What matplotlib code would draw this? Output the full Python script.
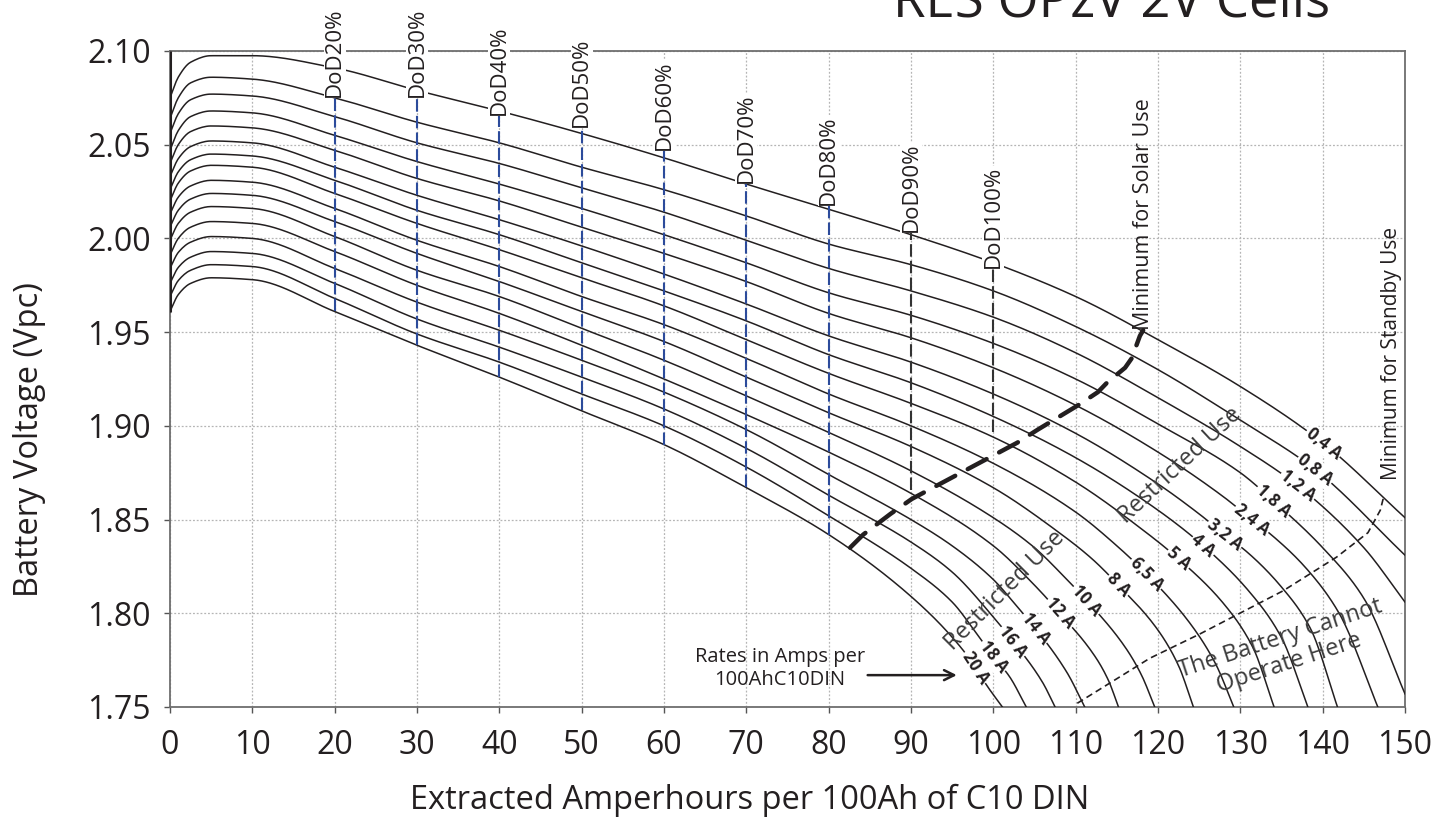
import numpy as np
import matplotlib
matplotlib.use("Agg")
import matplotlib.pyplot as plt

plt.rcParams['font.family'] = ['Open Sans', 'DejaVu Sans']

# --- discharge curves, one per rate (A per 100Ah C10 DIN) ---
rate_labels = ['0,4 A', '0,8 A', '1,2 A', '1,8 A', '2,4 A', '3,2 A', '4 A', '5 A',
               '6,5 A', '8 A', '10 A', '12 A', '14 A', '16 A', '18 A', '20 A']

head_ah = [0, 1, 2.5, 5, 10, 20, 30, 40, 50, 60, 70, 80]
head_v = [
    [2.075, 2.086, 2.094, 2.0975, 2.0975, 2.091, 2.079, 2.068, 2.056, 2.043, 2.029, 2.0156],
    [2.064, 2.075, 2.083, 2.086, 2.085, 2.075, 2.062, 2.051, 2.038, 2.026, 2.012, 1.997],
    [2.056, 2.0665, 2.074, 2.077, 2.076, 2.065, 2.051, 2.040, 2.027, 2.014, 1.999, 1.984],
    [2.047, 2.0575, 2.065, 2.068, 2.067, 2.055, 2.041, 2.029, 2.016, 2.002, 1.987, 1.971],
    [2.040, 2.050, 2.057, 2.060, 2.059, 2.047, 2.032, 2.020, 2.006, 1.992, 1.977, 1.960],
    [2.033, 2.0425, 2.049, 2.052, 2.051, 2.038, 2.023, 2.010, 1.996, 1.981, 1.965, 1.948],
    [2.026, 2.0355, 2.042, 2.045, 2.044, 2.031, 2.015, 2.002, 1.987, 1.972, 1.956, 1.938],
    [2.020, 2.0295, 2.036, 2.039, 2.038, 2.024, 2.008, 1.994, 1.979, 1.964, 1.946, 1.928],
    [2.013, 2.022, 2.028, 2.031, 2.030, 2.016, 1.999, 1.985, 1.969, 1.954, 1.936, 1.917],
    [2.006, 2.015, 2.021, 2.024, 2.023, 2.009, 1.992, 1.977, 1.961, 1.945, 1.926, 1.907],
    [1.999, 2.008, 2.014, 2.017, 2.016, 2.001, 1.983, 1.969, 1.952, 1.935, 1.916, 1.8965],
    [1.991, 2.000, 2.006, 2.009, 2.008, 1.993, 1.975, 1.960, 1.943, 1.925, 1.906, 1.886],
    [1.984, 1.9925, 1.998, 2.001, 2.000, 1.984, 1.966, 1.951, 1.935, 1.918, 1.898, 1.874],
    [1.976, 1.9845, 1.990, 1.993, 1.992, 1.976, 1.957, 1.942, 1.926, 1.909, 1.888, 1.863],
    [1.969, 1.9775, 1.983, 1.986, 1.985, 1.968, 1.949, 1.934, 1.917, 1.900, 1.878, 1.852],
    [1.961, 1.970, 1.976, 1.979, 1.978, 1.961, 1.943, 1.926, 1.908, 1.890, 1.867, 1.842],
]

tail_ah = [
    [90, 100, 110, 120, 130, 140, 150],
    [90, 100, 110, 120, 130, 139, 150],
    [90, 100, 110, 120, 130, 137, 145, 150],
    [90, 100, 110, 120, 130, 134, 140, 145, 150],
    [90, 100, 110, 120, 128, 131.4, 134, 138, 142, 146.7],
    [90, 100, 110, 120, 125, 128.1, 131, 135, 138.5, 141.8],
    [90, 100, 110, 120, 125.5, 131, 135, 138.2],
    [90, 100, 110, 118, 122.5, 128, 131.5, 134.1],
    [90, 100, 110, 115, 118.6, 124, 127, 129.2],
    [90, 100, 108, 112, 115.2, 120, 122.5, 124.3],
    [90, 100, 105, 108.5, 111.3, 116, 118, 119.6],
    [90, 100, 105, 108.1, 112.5, 114, 115.2],
    [90, 95, 100, 103, 105.1, 109, 111.1],
    [90, 95, 100, 102.4, 106, 107.5],
    [90, 95, 98, 100, 102, 104],
    [90, 96.2, 99.6, 101.1],
]
tail_v = [
    [2.002, 1.987, 1.969, 1.946, 1.921, 1.891, 1.851],
    [1.986, 1.972, 1.953, 1.930, 1.903, 1.877, 1.831],
    [1.972, 1.958, 1.939, 1.915, 1.889, 1.868, 1.835, 1.806],
    [1.959, 1.944, 1.925, 1.901, 1.875, 1.860, 1.835, 1.808, 1.757],
    [1.947, 1.931, 1.911, 1.886, 1.862, 1.850, 1.841, 1.824, 1.800, 1.75],
    [1.934, 1.917, 1.896, 1.869, 1.853, 1.842, 1.832, 1.814, 1.792, 1.75],
    [1.923, 1.905, 1.883, 1.855, 1.836, 1.812, 1.787, 1.75],
    [1.912, 1.894, 1.870, 1.845, 1.829, 1.805, 1.782, 1.75],
    [1.900, 1.880, 1.854, 1.836, 1.821, 1.794, 1.773, 1.75],
    [1.889, 1.867, 1.843, 1.829, 1.815, 1.791, 1.772, 1.75],
    [1.876, 1.851, 1.835, 1.820, 1.807, 1.782, 1.767, 1.75],
    [1.864, 1.836, 1.815, 1.800, 1.776, 1.764, 1.75],
    [1.850, 1.836, 1.818, 1.803, 1.792, 1.768, 1.75],
    [1.838, 1.822, 1.798, 1.785, 1.763, 1.75],
    [1.824, 1.806, 1.789, 1.777, 1.766, 1.75],
    [1.809, 1.781, 1.759, 1.75],
]

label_ah = [140.1, 139.1, 137.0, 134.0, 131.4, 128.1, 125.5, 122.5,
            118.6, 115.2, 111.3, 108.1, 105.1, 102.4, 100.0, 97.8]

# --- depth of discharge markers ---
dod_pct = [20, 30, 40, 50, 60, 70, 80, 90, 100]
dod_top = [2.0754, 2.0754, 2.0658, 2.0594, 2.0471, 2.0295, 2.0178, 2.0033, 1.9841]
dod_bottom = [1.9612, 1.943, 1.9259, 1.9083, 1.8896, 1.8672, 1.8416, 1.8656, 1.8965]

# --- limit lines ---
solar_ah = [82.6, 84.2, 87.5, 90.1, 102.9, 105.4, 110.3, 112.7, 113.8, 116.0, 116.8, 117.8, 118.2]
solar_v = [1.835, 1.842, 1.853, 1.861, 1.891, 1.898, 1.911, 1.918, 1.923, 1.931, 1.936, 1.948, 1.951]
standby_ah = [110.2, 119.0, 125.1, 135.2, 141.7, 145.5, 147.0, 147.4]
standby_v = [1.752, 1.776, 1.789, 1.812, 1.830, 1.843, 1.855, 1.862]


def pchip(x, y, xs):
    # monotone cubic, only used to draw smooth lines through the read points
    x = np.asarray(x, float)
    y = np.asarray(y, float)
    h = np.diff(x)
    delta = np.diff(y) / h
    n = len(x)
    d = np.zeros(n)
    for k in range(1, n - 1):
        if delta[k - 1] * delta[k] > 0:
            w1 = 2 * h[k] + h[k - 1]
            w2 = h[k] + 2 * h[k - 1]
            d[k] = (w1 + w2) / (w1 / delta[k - 1] + w2 / delta[k])
    d[0] = delta[0]
    d[-1] = delta[-1]
    xs = np.asarray(xs, float)
    i = np.clip(np.searchsorted(x, xs) - 1, 0, n - 2)
    t = (xs - x[i]) / h[i]
    h00 = 2 * t**3 - 3 * t**2 + 1
    h10 = t**3 - 2 * t**2 + t
    h01 = -2 * t**3 + 3 * t**2
    h11 = t**3 - t**2
    return h00 * y[i] + h10 * h[i] * d[i] + h01 * y[i + 1] + h11 * h[i] * d[i + 1]


fig = plt.figure(figsize=(14.41, 8.39), dpi=100)
ax = fig.add_axes([170 / 1441, 1 - 707 / 839, (1405 - 170) / 1441, (707 - 51) / 839])
ax.set_xlim(0, 150)
ax.set_ylim(1.75, 2.10)

ax.set_xticks(np.arange(0, 151, 10))
ax.set_yticks([1.75, 1.80, 1.85, 1.90, 1.95, 2.00, 2.05, 2.10])
ax.set_yticklabels([f"{v:.2f}" for v in ax.get_yticks()])
ax.tick_params(direction='out', length=4, width=1, colors='#555555',
               labelsize=23, labelcolor='#231f20')
ax.tick_params(axis='x', pad=12)
ax.tick_params(axis='y', pad=10)
ax.grid(True, color='#b5b5b5', linestyle=(0, (1.5, 1.5)), linewidth=0.9)
ax.set_axisbelow(True)
for s in ax.spines.values():
    s.set_color('#6e6e6e')
    s.set_linewidth(1.3)

ink = '#231f20'
curves = []
for i in range(len(rate_labels)):
    cx = head_ah + tail_ah[i]
    cy = head_v[i] + tail_v[i]
    curves.append((cx, cy))
    xs = np.linspace(cx[0], cx[-1], 600)
    ax.plot(xs, pchip(cx, cy, xs), color=ink, lw=1.1, zorder=3, clip_on=True)

# thick start edge at zero Ah
ax.vlines(0, min(r[0] for r in head_v), 2.10, color=ink, lw=2.2, zorder=3)

# rate labels along each curve
for i, lab in enumerate(rate_labels):
    cx, cy = curves[i]
    x0 = label_ah[i]
    y0 = float(pchip(cx, cy, [x0])[0])
    p1 = ax.transData.transform((x0 - 0.4, float(pchip(cx, cy, [x0 - 0.4])[0])))
    p2 = ax.transData.transform((x0 + 0.4, float(pchip(cx, cy, [x0 + 0.4])[0])))
    ang = np.degrees(np.arctan2(p2[1] - p1[1], p2[0] - p1[0]))
    ax.text(x0, y0, lab, rotation=ang, rotation_mode='anchor', ha='center', va='center',
            fontsize=12, fontweight='bold', color=ink, zorder=5,
            bbox=dict(facecolor='white', edgecolor='none', pad=0.8))

# DoD markers
for p, top, bot in zip(dod_pct, dod_top, dod_bottom):
    col = '#2c4b9b' if p <= 80 else '#333333'
    ax.plot([p, p], [bot, top], color=col, lw=1.5, linestyle=(0, (6, 2)), zorder=4)
    ax.text(p, top, f"DoD{p}%", rotation=90, ha='center', va='bottom', fontsize=16,
            color=ink, zorder=6, clip_on=False,
            bbox=dict(facecolor='white', edgecolor='none', pad=0.3))

# limit lines
ax.plot(solar_ah, solar_v, color=ink, lw=3.2, linestyle=(0, (4.8, 3.2)),
        dash_capstyle='round', zorder=5)
ax.plot(standby_ah, standby_v, color=ink, lw=1.2, linestyle=(0, (4, 2.5)), zorder=5)

ax.text(118.2, 1.951, "Minimum for Solar Use", rotation=90, ha='center', va='bottom',
        fontsize=15.5, color=ink, zorder=6)
ax.text(148.4, 1.871, "Minimum for Standby Use", rotation=90, ha='center', va='bottom',
        fontsize=15, color=ink, zorder=6)

grey_txt = '#3c3c3c'
ax.text(101.4, 1.812, "Restricted Use", rotation=45, ha='center', va='center',
        rotation_mode='anchor', fontsize=17, color=grey_txt, zorder=6)
ax.text(122.7, 1.879, "Restricted Use", rotation=43, ha='center', va='center',
        rotation_mode='anchor', fontsize=17, color=grey_txt, zorder=6)
ax.text(135.4, 1.780, "The Battery Cannot\nOperate Here", rotation=18, ha='center',
        va='center', rotation_mode='anchor', fontsize=17, color=grey_txt,
        linespacing=1.1, zorder=6)

ax.text(74.1, 1.7705, "Rates in Amps per\n100AhC10DIN", ha='center', va='center',
        fontsize=14.5, color=ink, linespacing=1.25, zorder=6)
ax.annotate("", xy=(95.9, 1.767), xytext=(84.4, 1.767),
            arrowprops=dict(arrowstyle='->', color=ink, lw=1.8, mutation_scale=18), zorder=6)

# axis titles and the clipped heading
fig.text(30 / 1441, 1 - 440 / 839, "Battery Voltage (Vpc)", rotation=90,
         ha='center', va='center', fontsize=23.5, color=ink)
fig.text(750 / 1441, 1 - 800 / 839, "Extracted Amperhours per 100Ah of C10 DIN",
         ha='center', va='center', fontsize=23.5, color=ink)
fig.text(1112 / 1441, 1 - 18 / 839, "RES OPzV 2V Cells", ha='center', va='baseline',
         fontsize=38, color=ink)

fig.savefig("out.png", dpi=100)
